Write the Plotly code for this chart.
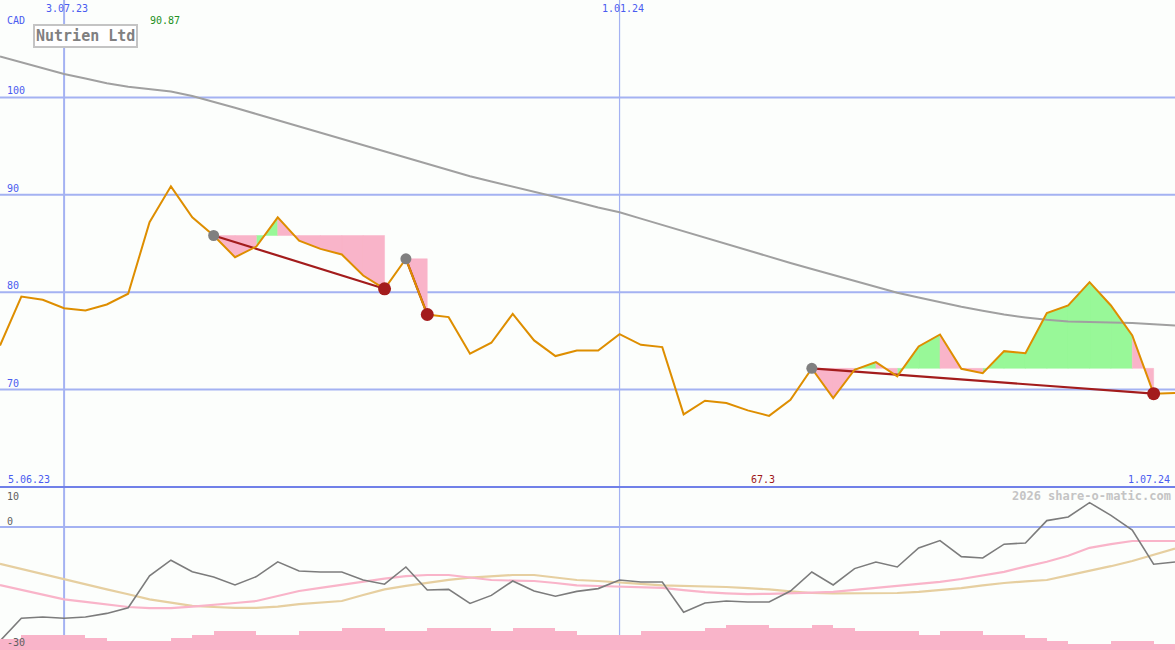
import plotly.graph_objects as go
import pandas as pd

W, H = 1175, 650

# ---------------- data ----------------
dates = pd.date_range("2023-06-12", periods=56, freq="7D")

price = [74.53, 79.56, 79.22, 78.36, 78.12, 78.74, 79.84, 87.18, 90.87, 87.69,
         85.82, 83.59, 84.69, 87.69, 85.30, 84.45, 83.87, 81.71, 80.35, 83.43,
         77.71, 77.44, 73.68, 74.81, 77.78, 75.05, 73.44, 74.02, 74.02, 75.69,
         74.60, 74.36, 67.46, 68.86, 68.62, 67.87, 67.30, 68.96, 72.18, 69.13,
         72.04, 72.82, 71.35, 74.43, 75.66, 72.14, 71.69, 73.95, 73.74, 77.85,
         78.64, 81.03, 78.64, 75.56, 69.58, 69.64]

ma_long = [104.2, 103.6, 103.0, 102.4, 101.94, 101.45, 101.1, 100.85, 100.6, 100.15,
           99.57, 98.93, 98.3, 97.66, 97.03, 96.39, 95.75, 95.12, 94.48, 93.83,
           93.19, 92.54, 91.9, 91.37, 90.86, 90.34, 89.81, 89.26, 88.7, 88.2,
           87.55, 86.9, 86.24, 85.58, 84.93, 84.27, 83.61, 83.0, 82.39, 81.78,
           81.16, 80.55, 79.95, 79.46, 78.98, 78.5, 78.1, 77.7, 77.41, 77.16,
           77.0, 76.96, 76.93, 76.85, 76.7, 76.58]

osc = [-28.5, -22.8, -22.5, -22.8, -22.5, -21.6, -20.2, -12.2, -8.3, -11.2,
       -12.5, -14.5, -12.4, -8.7, -11.0, -11.25, -11.25, -13.25, -14.3, -10.0,
       -15.75, -15.6, -19.1, -17.1, -13.5, -16.0, -17.3, -16.1, -15.4, -13.25,
       -13.75, -13.75, -21.3, -19.0, -18.5, -18.75, -18.75, -16.0, -11.25, -14.5,
       -10.4, -8.75, -10.0, -5.25, -3.4, -7.4, -7.75, -4.3, -4.0, 1.6,
       2.5, 6.1, 2.9, -0.75, -9.3, -8.75]

osc_pink = [-14.5, -15.7, -16.9, -18.1, -18.7, -19.3, -20.0, -20.3, -20.3, -19.9,
            -19.5, -19.0, -18.5, -17.2, -16.0, -15.2, -14.4, -13.6, -12.9, -12.3,
            -12.0, -12.0, -12.6, -13.25, -13.4, -13.5, -14.0, -14.6, -14.75, -14.9,
            -15.0, -15.2, -15.8, -16.3, -16.6, -16.8, -16.7, -16.6, -16.4, -16.2,
            -15.7, -15.1, -14.6, -14.2, -13.7, -13.0, -12.1, -11.2, -9.9, -8.7,
            -7.2, -5.2, -4.3, -3.5, -3.5, -3.5]

osc_tan = [-9.2, -10.5, -11.8, -13.1, -14.3, -15.6, -16.8, -18.1, -18.9, -19.7,
           -20.0, -20.2, -20.2, -19.9, -19.3, -18.9, -18.5, -17.0, -15.6, -14.7,
           -13.9, -13.2, -12.65, -12.3, -12.0, -12.0, -12.6, -13.25, -13.5, -13.8,
           -14.2, -14.6, -14.7, -14.85, -15.0, -15.3, -15.6, -16.1, -16.5, -16.6,
           -16.6, -16.6, -16.5, -16.2, -15.8, -15.3, -14.6, -14.0, -13.6, -13.25,
           -12.1, -11.0, -9.8, -8.5, -7.0, -5.4]

# relative weekly volume (one bar per week interval)
volume = [11, 15, 15, 15, 12, 9, 9, 9, 12, 15,
          19, 19, 15, 15, 19, 19, 22, 22, 19, 19,
          22, 22, 22, 19, 22, 22, 19, 15, 15, 15,
          19, 19, 19, 22, 25, 25, 22, 22, 25, 22,
          19, 19, 19, 15, 19, 19, 15, 15, 12, 9,
          6, 6, 9, 9, 6]

pattern_start = [10, 19, 38]
pattern_end = [18, 20, 54]

currency = "CAD"
company = "Nutrien Ltd"
date_labels = ["3.07.23", "1.01.24"]
date_lines = ["2023-07-03", "2024-01-01"]
first_label, last_label = "5.06.23", "1.07.24"
main_grid = [70, 80, 90, 100]
sub_labels = [10, 0, -30]

# ---------------- styles ----------------
BG = "#fcfefc"
GRID = "#a4b2f2"
SEP = "#7080e8"
BLUE_TXT = "#4a5cf0"
ORANGE = "#de8e00"
PINK = "#f9b4c9"
GREEN = "#98f898"
RED = "#a31c1c"
GRAY = "#808080"
FONT = "DejaVu Sans Mono"

split = 163 / H  # lower panel height fraction

fig = go.Figure()

# volume bars (lower panel, own overlay axis)
fig.add_trace(go.Bar(
    x=dates[:len(volume)], y=volume, offset=0, width=7 * 86400000,
    marker=dict(color=PINK, line=dict(width=0)), yaxis="y3", hoverinfo="skip"))

# pattern fills (one trace per colour per pattern, polygons separated by gaps)
for s, e in zip(pattern_start, pattern_end):
    level = price[s]
    polys = {GREEN: ([], []), PINK: ([], [])}
    for k in range(s, e):
        col = GREEN if price[k + 1] > level else PINK
        xs, ys = polys[col]
        xs += [dates[k], dates[k], dates[k + 1], dates[k + 1], dates[k], None]
        ys += [level, price[k], price[k + 1], level, level, None]
    for col, (xs, ys) in polys.items():
        if xs:
            fig.add_trace(go.Scatter(
                x=xs, y=ys, mode="lines", fill="toself", fillcolor=col,
                connectgaps=False, line=dict(width=0.5, color=col),
                hoverinfo="skip"))

# long moving average
fig.add_trace(go.Scatter(x=dates, y=ma_long, mode="lines",
                         line=dict(color="#a0a0a0", width=2), hoverinfo="skip"))

# pattern trend lines
for s, e in zip(pattern_start, pattern_end):
    fig.add_trace(go.Scatter(x=[dates[s], dates[e]], y=[price[s], price[e]],
                             mode="lines", line=dict(color=RED, width=2.2),
                             hoverinfo="skip"))

# price
fig.add_trace(go.Scatter(x=dates, y=price, mode="lines",
                         line=dict(color=ORANGE, width=2), hoverinfo="skip"))

# pattern dots
fig.add_trace(go.Scatter(x=[dates[i] for i in pattern_start],
                         y=[price[i] for i in pattern_start], mode="markers",
                         marker=dict(color=GRAY, size=11), hoverinfo="skip"))
fig.add_trace(go.Scatter(x=[dates[i] for i in pattern_end],
                         y=[price[i] for i in pattern_end], mode="markers",
                         marker=dict(color=RED, size=13), hoverinfo="skip"))

# lower panel lines
fig.add_trace(go.Scatter(x=dates, y=osc_tan, mode="lines", yaxis="y2",
                         line=dict(color="#e6cfa0", width=2.2), hoverinfo="skip"))
fig.add_trace(go.Scatter(x=dates, y=osc_pink, mode="lines", yaxis="y2",
                         line=dict(color=PINK, width=2.2), hoverinfo="skip"))
fig.add_trace(go.Scatter(x=dates, y=osc, mode="lines", yaxis="y2",
                         line=dict(color="#7c7c7c", width=1.6), hoverinfo="skip"))

# ---------------- shapes ----------------
shapes = []
for v in main_grid:
    shapes.append(dict(type="line", xref="paper", yref="y", x0=0, x1=1, y0=v, y1=v,
                       line=dict(color=GRID, width=2), layer="below"))
shapes.append(dict(type="line", xref="paper", yref="y2", x0=0, x1=1, y0=0, y1=0,
                   line=dict(color=GRID, width=2), layer="below"))
for d, wdt in zip(date_lines, [2, 1.2]):
    shapes.append(dict(type="line", xref="x", yref="paper", x0=d, x1=d, y0=0, y1=1,
                       line=dict(color=GRID, width=wdt), layer="below"))
shapes.append(dict(type="line", xref="paper", yref="paper", x0=0, x1=1,
                   y0=split, y1=split, line=dict(color=SEP, width=2), layer="below"))


# ---------------- annotations ----------------
def px_ann(text, px, py, color, size=10, xanchor="left", **kw):
    return dict(text=text, xref="paper", yref="paper", x=px / W, y=1 - py / H,
                xanchor=xanchor, yanchor="middle", showarrow=False,
                font=dict(family=FONT, size=size, color=color), **kw)


anns = []
anns.append(px_ann(currency, 5, 21, BLUE_TXT))
for v in main_grid:
    anns.append(dict(text=str(v), xref="paper", yref="y", x=5 / W, y=v,
                     xanchor="left", yanchor="bottom", yshift=-1, showarrow=False,
                     font=dict(family=FONT, size=10, color=BLUE_TXT)))
for d, lab in zip(date_lines, date_labels):
    anns.append(dict(text=lab, xref="x", yref="paper", x=d, y=1 - 9 / H,
                     xanchor="center", yanchor="middle", xshift=3, showarrow=False,
                     font=dict(family=FONT, size=10, color=BLUE_TXT)))

imax = max(range(len(price)), key=lambda i: price[i])
imin = min(range(len(price)), key=lambda i: price[i])
anns.append(dict(text=f"{price[imax]:g}", xref="x", yref="paper", x=dates[imax],
                 y=1 - 21 / H, xanchor="center", yanchor="middle", xshift=-6,
                 showarrow=False, font=dict(family=FONT, size=10, color="#229022")))
anns.append(dict(text=f"{price[imin]:g}", xref="x", yref="paper", x=dates[imin],
                 y=1 - 479 / H, xanchor="center", yanchor="middle", xshift=-6,
                 showarrow=False, font=dict(family=FONT, size=10, color="#a01818")))

anns.append(px_ann(first_label, 6, 479, BLUE_TXT))
anns.append(px_ann(last_label, 1172, 479, BLUE_TXT, xanchor="right"))
anns.append(px_ann("<b>2026 share-o-matic.com</b>", 1173, 496, "#c4c4c4", size=12,
                   xanchor="right"))
for v, py in zip(sub_labels, [496, 521.5, 642]):
    anns.append(px_ann(str(v), 5, py, "#606060"))

anns.append(px_ann(f"<b>{company}</b>", 85.5, 36, "#808080", size=15,
                   xanchor="center", bgcolor="#ffffff", bordercolor="#c4c4c4",
                   borderwidth=2, borderpad=1))

fig.update_layout(
    width=W, height=H, margin=dict(l=0, r=0, t=0, b=0),
    paper_bgcolor=BG, plot_bgcolor=BG, showlegend=False,
    xaxis=dict(type="date", range=[dates[0], dates[-1]], domain=[0, 1],
               anchor="y2", visible=False, showgrid=False, zeroline=False),
    yaxis=dict(domain=[split, 1], range=[60, 110], visible=False,
               showgrid=False, zeroline=False),
    yaxis2=dict(domain=[0, split], range=[-30.75, 10], visible=False,
                showgrid=False, zeroline=False),
    yaxis3=dict(overlaying="y2", range=[0, 163], visible=False,
                showgrid=False, zeroline=False),
    shapes=shapes, annotations=anns, bargap=0,
)

fig.write_html(
    "out.html",
    config={"displayModeBar": False, "staticPlot": True},
    post_script="document.body.style.margin='0';document.body.style.overflow='hidden';",
)
